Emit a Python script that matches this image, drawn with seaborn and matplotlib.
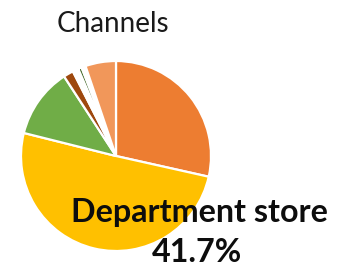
import matplotlib
matplotlib.use("Agg")
import matplotlib.pyplot as plt
import seaborn as sns

sns.set_style("white")
plt.rcParams['font.family'] = ['Lato', 'DejaVu Sans']

channels = ["Online", "Department store", "Supermarket", "Specialty store",
            "Other A", "Direct sales", "Other B", "Outlet"]
shares = [28.5, 50.4, 11.9, 1.7, 1.0, 0.6, 0.7, 5.2]
colors = ["#ED7D31", "#FFC000", "#70AD47", "#9E480E", "#FFFFFF", "#43682B", "#FFFFFF", "#F1975A"]
title = "Channels"
label_name = "Department store"
label_pct = "41.7%"

W, H = 349, 267
fig = plt.figure(figsize=(W / 100, H / 100), dpi=100)
cx, cy, r = 116, 156, 95
ax = fig.add_axes([(cx - r) / W, (H - cy - r) / H, 2 * r / W, 2 * r / H])
ax.pie(shares, colors=colors, startangle=90, counterclock=False,
       wedgeprops=dict(edgecolor="white", linewidth=1.6))
ax.set_xlim(-1, 1)
ax.set_ylim(-1, 1)
ax.axis("off")

fig.text(113 / W, 1 - 32 / H, title, ha="center", va="baseline", fontsize=20, color="#1a1a1a")
fig.text(199 / W, 1 - 222 / H, label_name, ha="center", va="baseline", fontsize=23.2,
         fontweight="bold", color="#0d0d0d")
fig.text(197 / W, 1 - 262 / H, label_pct, ha="center", va="baseline", fontsize=23.2,
         fontweight="bold", color="#0d0d0d")

fig.savefig("out.png", dpi=100)
